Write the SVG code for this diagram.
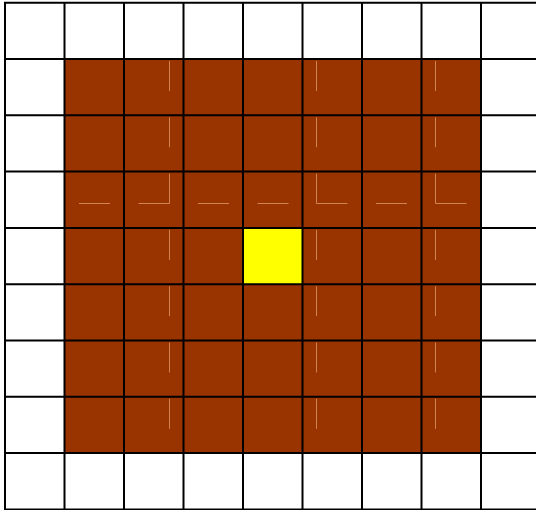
<svg xmlns="http://www.w3.org/2000/svg" width="536" height="510" viewBox="0 0 536 510">
  <style>
    .brown { fill: #993300; }
    .yellow { fill: #ffff00; }
    .faint { stroke: #d08456; stroke-width: 1; fill: none; }
    .grid { stroke: #000; stroke-width: 2; fill: none; }
  </style>
  <rect x="0" y="0" width="536" height="510" fill="#ffffff"/>
  <g id="brown-block">
    <rect class="brown" x="64.5" y="59" width="416.5" height="394.1"/>
  </g>
  <g id="yellow-cell">
    <rect class="yellow" x="243" y="227.9" width="59.5" height="56.3"/>
  </g>
  <g id="faint-marks">
    <path class="faint" d="M169.5 61V91 M316.5 61V91 M435.5 61V91
      M169.5 117.3V147.3 M316.5 117.3V147.3 M435.5 117.3V147.3
      M169.5 173.6V203.5 M316.5 173.6V203.5 M435.5 173.6V203.5
      M169.5 229.9V259.9 M316.5 229.9V259.9 M435.5 229.9V259.9
      M169.5 286.2V316.2 M316.5 286.2V316.2 M435.5 286.2V316.2
      M169.5 342.5V372.5 M316.5 342.5V372.5 M435.5 342.5V372.5
      M169.5 398.8V428.8 M316.5 398.8V428.8 M435.5 398.8V428.8
      M79 203.5H110 M138.5 203.5H169.5 M198 203.5H229 M257.5 203.5H288.5
      M316.5 203.5H347.5 M376 203.5H407 M435.5 203.5H466.5"/>
  </g>
  <g id="grid-lines">
    <path class="grid" d="M5 1.7V510.4 M64.5 1.7V510.4 M124 1.7V510.4 M183.5 1.7V510.4 M243 1.7V510.4 M302.5 1.7V510.4 M362 1.7V510.4 M421.5 1.7V510.4 M481 1.7V510.4
      M4 2.7H536 M4 59H536 M4 115.3H536 M4 171.6H536 M4 227.9H536 M4 284.2H536 M4 340.5H536 M4 396.8H536 M4 453.1H536 M4 509.4H536"/>
  </g>
</svg>
